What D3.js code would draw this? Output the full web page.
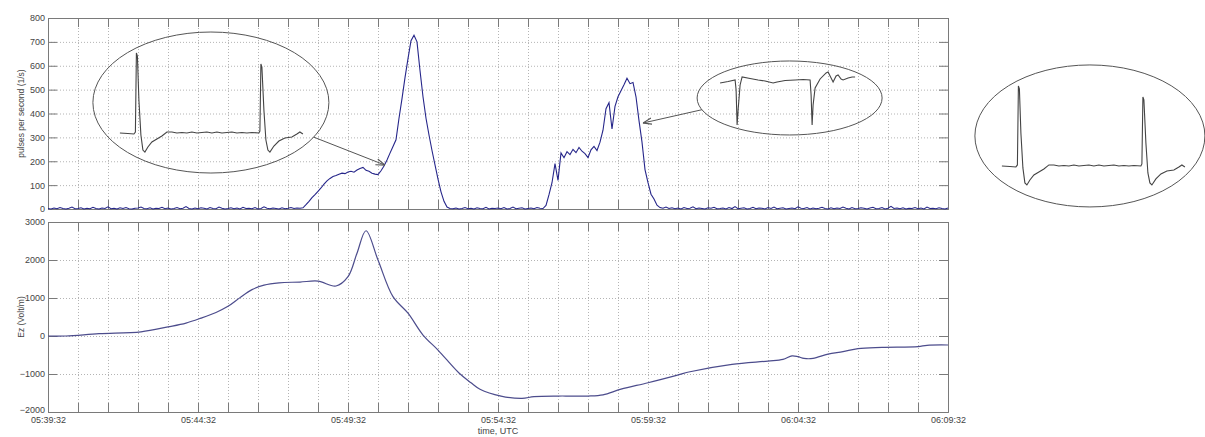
<!DOCTYPE html>
<html>
<head>
<meta charset="utf-8">
<script src="https://cdn.jsdelivr.net/npm/d3@7"></script>
<style>
  body { margin: 0; background: #fff; }
  svg text { font-family: "Liberation Sans", Arial, sans-serif; fill: #444; }
</style>
</head>
<body>
<div id="wrapper"></div>
<script>
// time axis in minutes after 05:39:32 UTC
const timeLabels = ["05:39:32", "05:44:32", "05:49:32", "05:54:32", "05:59:32", "06:04:32", "06:09:32"];
const pulseTicks = [0, 100, 200, 300, 400, 500, 600, 700, 800];
const ezTicks = [-2000, -1000, 0, 1000, 2000, 3000];

// pulses per second, one value every 0.1 min from 05:39:32
const pulseStep = 0.1;
const pulseValues = [
  2,0,4,1,6,2,0,3,8,1,2,5,0,3,1,7,2,0,4,2,9,1,3,0,5,2,6,1,0,3,4,8,2,1,5,0,3,2,7,1,
  4,0,2,6,1,3,10,2,0,4,1,5,3,0,6,2,1,8,3,0,2,5,1,4,0,7,2,3,1,6,0,2,9,3,1,4,2,0,5,1,
  3,6,2,4,
  3,5,18,32,48,60,74,88,104,118,
  128,136,140,146,150,148,155,158,154,163,
  170,174,162,158,150,146,144,160,180,205,
  234,262,290,380,462,550,630,705,728,700,
  580,470,380,310,245,185,125,72,32,8,
  2,
  1,4,0,2,6,1,3,0,5,2,1,7,0,3,2,4,1,6,0,2,8,1,3,5,0,2,4,1,6,3,
  2,15,60,110,190,120,235,215,240,228,
  250,236,258,242,232,215,248,262,245,280,
  330,420,445,335,430,470,495,520,548,525,
  530,470,370,280,165,110,62,42,16,6,
  3,8,2,5,1,4,0,6,2,3,9,1,4,2,0,5,3,7,1,2,
  4,0,6,2,10,1,3,5,0,2,7,1,4,3,0,6,2,8,1,3,
  5,0,2,4,1,9,3,2,6,0,4,1,3,7,2,0,5,1,4,2,
  8,3,0,6,1,2,5,3,0,4,7,1,2,6,0,3,11,2,4,1,
  5,0,3,2,6,1,4,0,8,2,3,1,5,2,0,4
];

// vertical electric field
const ezTimes = [0, 0.6, 1.7, 3.1, 4.0, 4.6, 5.1, 5.6, 6.0, 6.4, 6.8, 7.2, 7.7, 8.4, 9.0, 9.6, 10.0, 10.3, 10.6, 11.0, 11.5, 12.0, 12.5, 13.0,
  13.7, 14.1, 14.4, 15.1, 15.8, 16.2, 17.0, 17.4, 18.0, 18.5, 19.1, 20.0, 21.0, 21.4, 22.8, 24.0, 24.5, 24.8, 25.0, 25.2,
  25.5, 26.0, 26.5, 27.0, 27.8, 29.0, 29.3, 30.0];
const ezValues = [0, 0, 60, 110, 240, 340, 470, 620, 780, 1010, 1220, 1340, 1400, 1420, 1445, 1315, 1560, 2180, 2770, 2000, 1035, 600, 25, -370,
  -975, -1230, -1400, -1580, -1640, -1595, -1580, -1580, -1580, -1550, -1400, -1230, -1025, -940, -745, -660, -615, -525, -545, -590,
  -590, -475, -410, -330, -300, -280, -245, -237];

// inset waveforms [t, amplitude]
const spikeWave = [[0,0],[8,-0.5],[14,-1],[15.5,1],[16.5,80],[17.5,77],[19,33],[21,-2],[23,-17],[25,-19],[28,-14],[32,-9],
  [37,-6],[42,-3],[47,1],[52,1],[57,0],[62,0.5],[67,0],[72,1],[77,0],[82,0.5],[87,1],[92,0],[97,1],[102,0],[107,0.5],
  [112,1],[117,0],[122,0.5],[127,0],[132,0.5],[139,0],[140,2],[141,69],[142,66],[144,23],[146,-7],[148,-17],[150,-19],
  [154,-13],[159,-8],[165,-5],[172,-4],[177,-1],[180,1],[183,-1]];
const dipWave = [[0,0],[8,1.5],[15,3],[16,-7],[17,-42],[18,-27],[20,-2],[22,6],[30,4.5],[38,3],[45,2],[53,0],[57,1],
  [65,2.5],[75,3],[83,3.5],[90,3],[91,-12],[92,-42],[93,-22],[95,-5],[100,4],[106,10],[108,11],[111,5],[113,1],[116,7],
  [118,8],[121,4],[123,3],[128,5],[132,6],[135,6]];

function drawChart() {
  const dims = { width: 1205, height: 437, left: 48, right: 948 };
  const topPanel = { top: 18, bottom: 209 };
  const botPanel = { top: 222, bottom: 412 };
  const axisColor = "#7a7a7a";

  const svg = d3.select("#wrapper").append("svg")
    .attr("width", dims.width)
    .attr("height", dims.height);

  const x = d3.scaleLinear().domain([0, 30]).range([dims.left, dims.right]);
  const yPulse = d3.scaleLinear().domain([0, 800]).range([topPanel.bottom, topPanel.top]);
  const yEz = d3.scaleLinear().domain([-2000, 3000]).range([botPanel.bottom, botPanel.top]);
  const minuteTicks = d3.range(0, 31);

  function panel(y, yTicks, labelled) {
    const [y0, y1] = y.range();
    const g = svg.append("g");
    const w = dims.right - dims.left;

    // dotted grid
    g.append("g").attr("transform", `translate(0,${y0})`)
      .call(d3.axisBottom(x).tickValues(minuteTicks.slice(1, -1)).tickSize(-(y0 - y1)).tickFormat(""))
      .call(a => a.select(".domain").remove())
      .selectAll("line").attr("stroke", "#b4b4b4").attr("stroke-dasharray", "1,2");
    g.append("g").attr("transform", `translate(${dims.left},0)`)
      .call(d3.axisLeft(y).tickValues(yTicks.slice(1, -1)).tickSize(-w).tickFormat(""))
      .call(a => a.select(".domain").remove())
      .selectAll("line").attr("stroke", "#b4b4b4").attr("stroke-dasharray", "1,2");

    // ticks pointing inward on all four sides
    const left = g.append("g").attr("transform", `translate(${dims.left},0)`)
      .call(d3.axisLeft(y).tickValues(yTicks).tickSize(-9).tickPadding(3).tickFormat(d3.format("d")));
    const right = g.append("g").attr("transform", `translate(${dims.right},0)`)
      .call(d3.axisRight(y).tickValues(yTicks).tickSize(-9).tickFormat(""));
    const topA = g.append("g").attr("transform", `translate(0,${y1})`)
      .call(d3.axisTop(x).tickValues(minuteTicks).tickSize(-9).tickFormat(""));
    const bottom = g.append("g").attr("transform", `translate(0,${y0})`)
      .call(d3.axisBottom(x).tickValues(minuteTicks).tickSize(-9).tickPadding(5)
        .tickFormat(d => labelled && d % 5 === 0 ? timeLabels[d / 5] : ""));

    [left, right, topA, bottom].forEach(a => {
      a.selectAll("path, line").attr("stroke", axisColor);
      a.selectAll("text").attr("font-size", 9).attr("fill", "#444")
        .attr("font-family", "Liberation Sans, Arial, sans-serif");
    });
    // lowest label sits a little higher so it clears the time labels
    left.selectAll(".tick text").filter(d => d === yTicks[0] && labelled).attr("dy", "0.05em");
    return g;
  }

  panel(yPulse, pulseTicks, false);
  panel(yEz, ezTicks, true);

  // data lines
  const pulseLine = d3.line()
    .x((d, i) => x(i * pulseStep))
    .y(d => yPulse(d));
  svg.append("path")
    .datum(pulseValues)
    .attr("d", pulseLine)
    .attr("fill", "none")
    .attr("stroke", "#26268a")
    .attr("stroke-width", 1.1);

  const ezData = ezTimes.map((t, i) => [t, ezValues[i]]);
  const ezLine = d3.line()
    .curve(d3.curveCatmullRom.alpha(0.5))
    .x(d => x(d[0]))
    .y(d => yEz(d[1]));
  svg.append("path")
    .datum(ezData)
    .attr("d", ezLine)
    .attr("fill", "none")
    .attr("stroke", "#4c4c8c")
    .attr("stroke-width", 1.2);

  // axis titles
  svg.append("text")
    .attr("transform", `translate(24,${(topPanel.top + topPanel.bottom) / 2}) rotate(-90)`)
    .attr("text-anchor", "middle")
    .attr("font-size", 8.5)
    .text("pulses per second (1/s)");
  svg.append("text")
    .attr("transform", `translate(24,${(botPanel.top + botPanel.bottom) / 2}) rotate(-90)`)
    .attr("text-anchor", "middle")
    .attr("font-size", 8.5)
    .text("Ez (Volt/m)");
  svg.append("text")
    .attr("x", (dims.left + dims.right) / 2)
    .attr("y", 434)
    .attr("text-anchor", "middle")
    .attr("font-size", 9)
    .text("time, UTC");

  // inset pulse shapes with arrows
  const insets = [
    { cx: 5.43, cy: 446, rx: 118, ry: 70.5, wave: spikeWave, dx: -91, dy: 30.5, arrow: { angle: 29.4, t: 11.23, v: 184 } },
    { cx: 24.72, cy: 465, rx: 92.5, ry: 37, wave: dipWave, dx: -69.5, dy: -15, arrow: { angle: 161.5, t: 19.83, v: 360 } },
    { cx: 34.73, cy: 306, rx: 115, ry: 71, wave: spikeWave, dx: -88, dy: 30 }
  ];
  const inkColor = "#555";

  svg.append("defs").append("marker")
    .attr("id", "head")
    .attr("viewBox", "0 0 10 10")
    .attr("refX", 10).attr("refY", 5)
    .attr("markerWidth", 9).attr("markerHeight", 9)
    .attr("markerUnits", "userSpaceOnUse")
    .attr("orient", "auto")
    .append("path")
    .attr("d", "M0,1.5L10,5L0,8.5")
    .attr("fill", "none")
    .attr("stroke", inkColor)
    .attr("stroke-width", 1.2);

  insets.forEach(ins => {
    const cx = x(ins.cx), cy = yPulse(ins.cy);
    svg.append("ellipse")
      .attr("cx", cx).attr("cy", cy)
      .attr("rx", ins.rx).attr("ry", ins.ry)
      .attr("fill", "none")
      .attr("stroke", inkColor)
      .attr("stroke-width", 1);

    const tMax = d3.max(ins.wave, d => d[0]);
    const wx = d3.scaleLinear().domain([0, tMax]).range([cx + ins.dx, cx + ins.dx + tMax]);
    const wy = d3.scaleLinear().domain([0, 1]).range([cy + ins.dy, cy + ins.dy - 1]);
    svg.append("path")
      .datum(ins.wave)
      .attr("d", d3.line().x(d => wx(d[0])).y(d => wy(d[1])))
      .attr("fill", "none")
      .attr("stroke", "#444")
      .attr("stroke-width", 1.1);

    if (ins.arrow) {
      const a = ins.arrow.angle * Math.PI / 180;
      svg.append("line")
        .attr("x1", cx + ins.rx * Math.cos(a))
        .attr("y1", cy + ins.ry * Math.sin(a))
        .attr("x2", x(ins.arrow.t))
        .attr("y2", yPulse(ins.arrow.v))
        .attr("stroke", inkColor)
        .attr("stroke-width", 1)
        .attr("marker-end", "url(#head)");
    }
  });
}

drawChart()
</script>
</body>
</html>
